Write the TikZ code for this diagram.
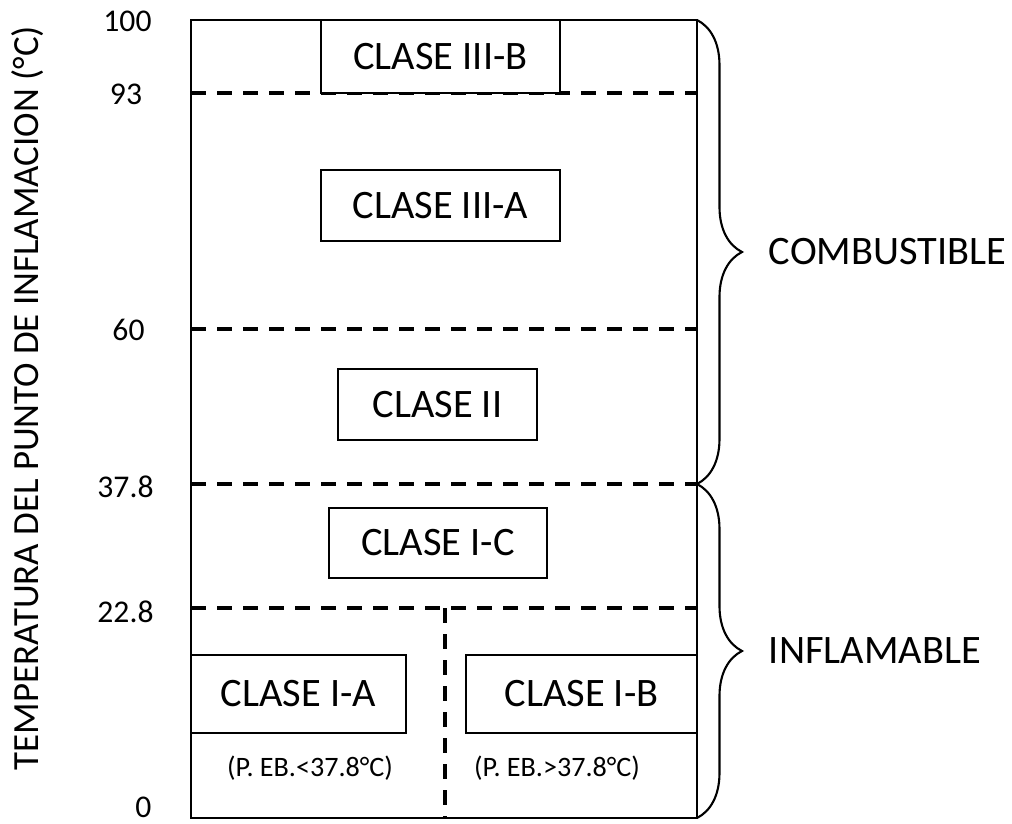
\documentclass[tikz,border=0pt]{standalone}
\usepackage{fontspec}
\setmainfont{Carlito}
\usetikzlibrary{decorations.pathreplacing}

\begin{document}
\begin{tikzpicture}[x=0.02cm,y=-0.02cm,line width=1.6pt,
  clase/.style={draw,line width=1.3pt,fill=white,inner sep=0pt,font=\fontsize{23}{26}\selectfont},
  limite/.style={dash pattern=on 8.5pt off 6.3pt,line width=2.2pt},
  valor/.style={font=\fontsize{18}{20}\selectfont},
  nota/.style={font=\fontsize{16}{18}\selectfont},
  grupo/.style={anchor=west,font=\fontsize{23}{26}\selectfont},
  llave/.style={decorate,decoration={brace,amplitude=0.9cm},line width=1.2pt}]
  \useasboundingbox (0,0) rectangle (1012,824);
  % esquinas y niveles de la escala
  \coordinate (so) at (191,818); \coordinate (ne) at (697,20);
  \coordinate (n93i) at (191,93);   \coordinate (n93d) at (697,93);
  \coordinate (n60i) at (191,329);  \coordinate (n60d) at (697,329);
  \coordinate (n378i) at (191,484); \coordinate (n378d) at (697,484);
  \coordinate (n228i) at (191,608); \coordinate (n228d) at (697,608);
  \coordinate (div) at (445,608);   \coordinate (divb) at (445,818);
  % limites entre clases (discontinuas)
  \draw[limite] (n93i)--(n93d);
  \draw[limite] (n60i)--(n60d);
  \draw[limite] (n378i)--(n378d);
  \draw[limite] (n228i)--(n228d);
  \draw[limite] (div)--(divb);
  % clases
  \node[clase,minimum width=4.78cm,minimum height=1.46cm] (iiib) at (440.5,56.5){CLASE III-B};
  \node[clase,minimum width=4.78cm,minimum height=1.42cm] (iiia) at (440.5,205.5){CLASE III-A};
  \node[clase,minimum width=3.98cm,minimum height=1.42cm] (ii) at (437.5,404.5){CLASE II};
  \node[clase,minimum width=4.36cm,minimum height=1.40cm] (ic) at (438,543){CLASE I-C};
  \node[clase,minimum width=4.30cm,minimum height=1.56cm] (ia) at (298.5,694){CLASE I-A};
  \node[clase,minimum width=4.62cm,minimum height=1.56cm] (ib) at (581.5,694){CLASE I-B};
  \node[nota] (eba) at (310,768){(P. EB.<37.8°C)};
  \node[nota] (ebb) at (557,768){(P. EB.>37.8°C)};
  % marco
  \draw (so) rectangle (ne);
  % escala
  \node[valor] (v100) at (127.5,21){100};
  \node[valor] (v93) at (126,94){93};
  \node[valor] (v60) at (128.5,330){60};
  \node[valor] (v378) at (125.5,487){37.8};
  \node[valor] (v228) at (125.5,612){22.8};
  \node[valor,inner sep=1pt] (v0) at (143.5,807){0};
  \node[rotate=90,font=\fontsize{21}{24}\selectfont] (eje) at (28,398){TEMPERATURA DEL PUNTO DE INFLAMACION (°C)};
  % llaves
  \draw[llave] (ne)--(n378d) node[midway,xshift=1.3cm,grupo] (comb){COMBUSTIBLE};
  \draw[llave] (n378d)--(697,818) node[midway,xshift=1.3cm,grupo] (infl){INFLAMABLE};
\end{tikzpicture}
\end{document}
